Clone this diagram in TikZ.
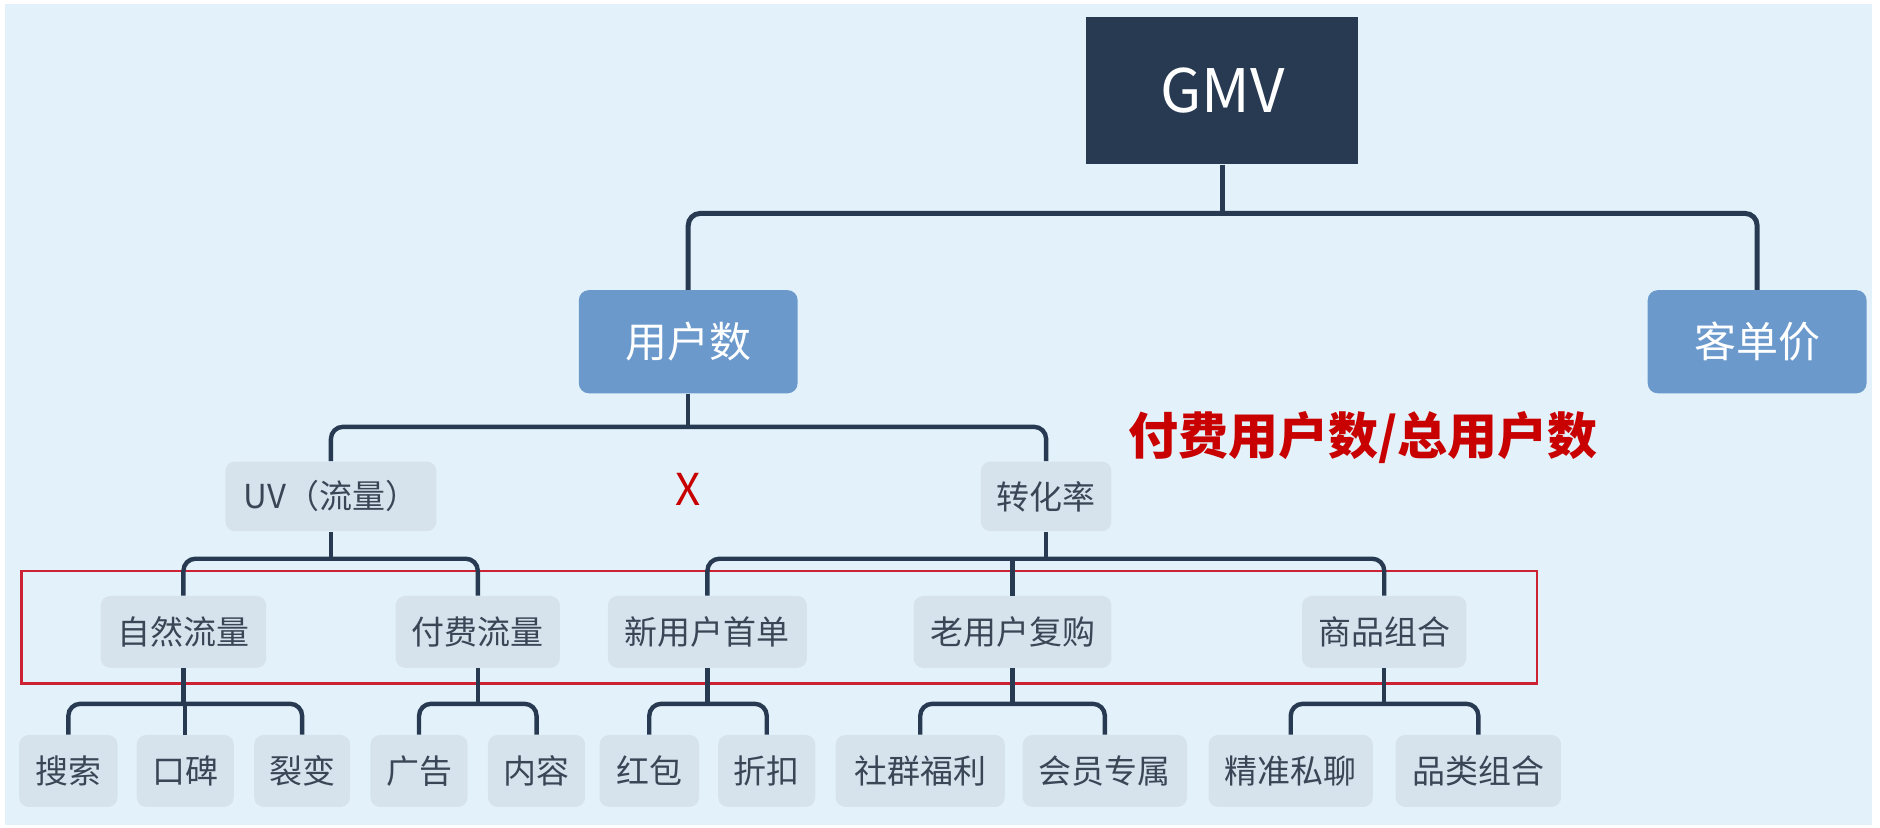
\documentclass[tikz,border=0pt]{standalone}
\usepackage{fontspec}
\setmainfont{Noto Sans CJK SC}
\definecolor{navy}{HTML}{273A52}
\definecolor{midblue}{HTML}{6B99CC}
\definecolor{bgblue}{HTML}{E3F2FA}
\definecolor{nodegray}{HTML}{D6E3ED}
\definecolor{txtgray}{HTML}{3A4656}
\definecolor{redtxt}{HTML}{C80000}
\definecolor{redbox}{HTML}{CC2233}
\tikzset{
  gmvbox/.style={fill=navy, text=white, inner sep=0pt, minimum width=136.2pt, minimum height=73.8pt, font=\fontsize{30pt}{32pt}\selectfont},
  bluebox/.style={fill=midblue, text=white, rounded corners=5pt, inner sep=0pt, minimum width=109.5pt, minimum height=51.6pt, font=\fontsize{21pt}{23pt}\selectfont},
  graybox/.style={fill=nodegray, text=txtgray, rounded corners=4.8pt, inner sep=0pt, minimum height=36pt, font=\fontsize{16.5pt}{18pt}\selectfont},
  conn/.style={draw=navy, line width=2.5pt, rounded corners=6pt},
  conn2/.style={draw=navy, line width=2.2pt, rounded corners=6pt},
}
\begin{document}
\begin{tikzpicture}[x=0.6pt,y=-0.6pt]
\fill[white] (0,0) rectangle (1568,690);
\useasboundingbox (0,0) rectangle (1568,690);
\fill[bgblue] (4,3) rectangle (1561,688);

% level 0-1
\node[gmvbox] (gmv) at (1019.5,75.5) {GMV};
\node[bluebox] (yhs) at (574,285) {用户数};
\node[bluebox] (kdj) at (1465.5,285) {客单价};

% level 2
\node[graybox, minimum width=105.6pt, minimum height=34.8pt] (uv) at (276,414) {UV（流量）};
\node[graybox, minimum width=65.4pt, minimum height=34.8pt] (zhl) at (872.5,414) {转化率};

% level 3
\node[graybox, minimum width=82.8pt] (zrll) at (153,527) {自然流量};
\node[graybox, minimum width=82.2pt] (ffll) at (398.5,527) {付费流量};
\node[graybox, minimum width=99.6pt] (xyh) at (590,527) {新用户首单};
\node[graybox, minimum width=99pt] (lyh) at (844.5,527) {老用户复购};
\node[graybox, minimum width=82.2pt] (sphz) at (1154.5,527) {商品组合};

% leaves
\node[graybox, minimum width=49.2pt] (ss) at (57,643) {搜索};
\node[graybox, minimum width=48.6pt] (kb) at (154.5,643) {口碑};
\node[graybox, minimum width=48pt] (lb) at (252,643) {裂变};
\node[graybox, minimum width=48.6pt] (gg) at (349.5,643) {广告};
\node[graybox, minimum width=48.6pt] (nr) at (447.5,643) {内容};
\node[graybox, minimum width=49.8pt] (hb) at (541.5,643) {红包};
\node[graybox, minimum width=48.6pt] (zk) at (639.5,643) {折扣};
\node[graybox, minimum width=84.6pt] (sqfl) at (767.5,643) {社群福利};
\node[graybox, minimum width=82.2pt] (hyzs) at (921.5,643) {会员专属};
\node[graybox, minimum width=82.2pt] (jzsl) at (1076.5,643) {精准私聊};
\node[graybox, minimum width=82.8pt] (plzh) at (1233,643) {品类组合};

% annotations
\node[text=redtxt, font=\fontsize{25pt}{27pt}\selectfont\bfseries] (formula) at (1137,365) {付费用户数/总用户数};
\node[text=redtxt, font=\fontsize{22pt}{24pt}\selectfont] (xmark) at (574,408) {X};
\draw[redbox, line width=1.2pt] (18,476) rectangle (1282,570);

% connectors
\coordinate (b0) at (1019.5,178);
\draw[conn] (gmv.south) -- (b0);
\draw[conn] (yhs.north) |- (b0) -| (kdj.north);

\coordinate (b1) at (574,356);
\draw[conn2] (yhs.south) -- (b1);
\draw[conn2] (uv.north) |- (b1) -| (zhl.north);

\coordinate (b2) at (276,466);
\draw[conn2] (uv.south) -- (b2);
\draw[conn2] (zrll.north) |- (b2) -| (ffll.north);

\coordinate (b3) at (872.5,466);
\draw[conn2] (zhl.south) -- (b3);
\draw[conn2] (xyh.north) |- (b3) -| (sphz.north);
\draw[conn2] (lyh.north) -- (lyh.north |- b3);

\coordinate (b4) at (153,587);
\draw[conn2] (zrll.south) -- (b4);
\draw[conn2] (ss.north) |- (b4) -| (lb.north);
\draw[conn2] (kb.north) -- (kb.north |- b4);

\coordinate (b5) at (398.5,587);
\draw[conn2] (ffll.south) -- (b5);
\draw[conn2] (gg.north) |- (b5) -| (nr.north);

\coordinate (b6) at (590,587);
\draw[conn2] (xyh.south) -- (b6);
\draw[conn2] (hb.north) |- (b6) -| (zk.north);

\coordinate (b7) at (844.5,587);
\draw[conn2] (lyh.south) -- (b7);
\draw[conn2] (sqfl.north) |- (b7) -| (hyzs.north);

\coordinate (b8) at (1154.5,587);
\draw[conn2] (sphz.south) -- (b8);
\draw[conn2] (jzsl.north) |- (b8) -| (plzh.north);
\end{tikzpicture}
\end{document}
